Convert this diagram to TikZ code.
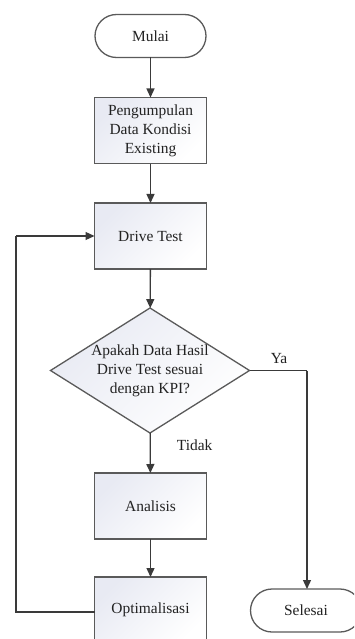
\documentclass[tikz,border=0pt]{standalone}
\usepackage{fontspec}
\setmainfont{Liberation Serif}
\usetikzlibrary{shapes.geometric,arrows.meta}
\definecolor{boxtop}{HTML}{E8EAF3}
\definecolor{linec}{HTML}{3A3A3A}
\definecolor{edgec}{HTML}{5A5A5A}
\definecolor{txtc}{HTML}{222222}
\begin{document}
\begin{tikzpicture}[x=1bp,y=-1bp,
  every node/.style={font=\fontsize{15.5}{19}\selectfont, text=txtc},
  procbox/.style={draw=edgec, line width=1.3bp, rectangle, minimum width=112bp, minimum height=66bp, inner sep=0pt, outer sep=0pt, align=center, top color=boxtop, bottom color=white, shading angle=45},
  term/.style={draw=edgec, line width=1.3bp, rectangle, rounded corners=21.5bp, fill=white, minimum width=111bp, minimum height=43bp, inner sep=0pt, outer sep=0pt},
  decision/.style={draw=edgec, line width=1.3bp, diamond, minimum width=199bp, minimum height=125bp, inner sep=0pt, outer sep=0pt, top color=boxtop, bottom color=white, shading angle=45},
  conn/.style={draw=linec, line width=1.3bp, -{Triangle[length=9bp,width=8bp]}},
  plain/.style={draw=linec, line width=1.3bp}
]
\useasboundingbox (0,0) rectangle (354,639);
\begin{scope}
\clip (0,0) rectangle (354,639);
\node[term] (mulai) at (150.5,36) {Mulai};
\node[procbox] (peng) at (150.5,130.5) {Pengumpulan\\Data Kondisi\\Existing};
\node[procbox] (dt) at (150.5,236) {Drive Test};
\node[decision, label={[align=center, text=txtc, font=\fontsize{15.5}{19}\selectfont]center:Apakah Data Hasil\\Drive Test sesuai\\dengan KPI?}] (dec) at (150,370.5) {};
\node[procbox] (ana) at (150.5,506) {Analisis};
\node[procbox] (opt) at (150.5,610) {Optimalisasi};
\node[term] (sel) at (306,610.5) {Selesai};

\coordinate (ya) at (307,370.5);
\coordinate (lb) at (16,612);
\coordinate (lt) at (16,236);

\draw[conn] (mulai) -- (peng);
\draw[conn] (peng) -- (dt);
\draw[conn] (dt) -- (dec);
\draw[conn] (dec) -- (ana) node[pos=0.3, right=26bp, inner sep=0pt] (tidak) {Tidak};
\draw[conn] (ana) -- (opt);
\draw[plain] (dec.east) -- (ya);
\draw[conn] (ya) -- (sel.north -| ya);
\node[anchor=south] (yalbl) at (279,367) {Ya};
\draw[plain] (opt.west |- lb) -- (lb) -- (lt);
\draw[conn] (lt) -- (dt.west);
\end{scope}
\end{tikzpicture}
\end{document}
